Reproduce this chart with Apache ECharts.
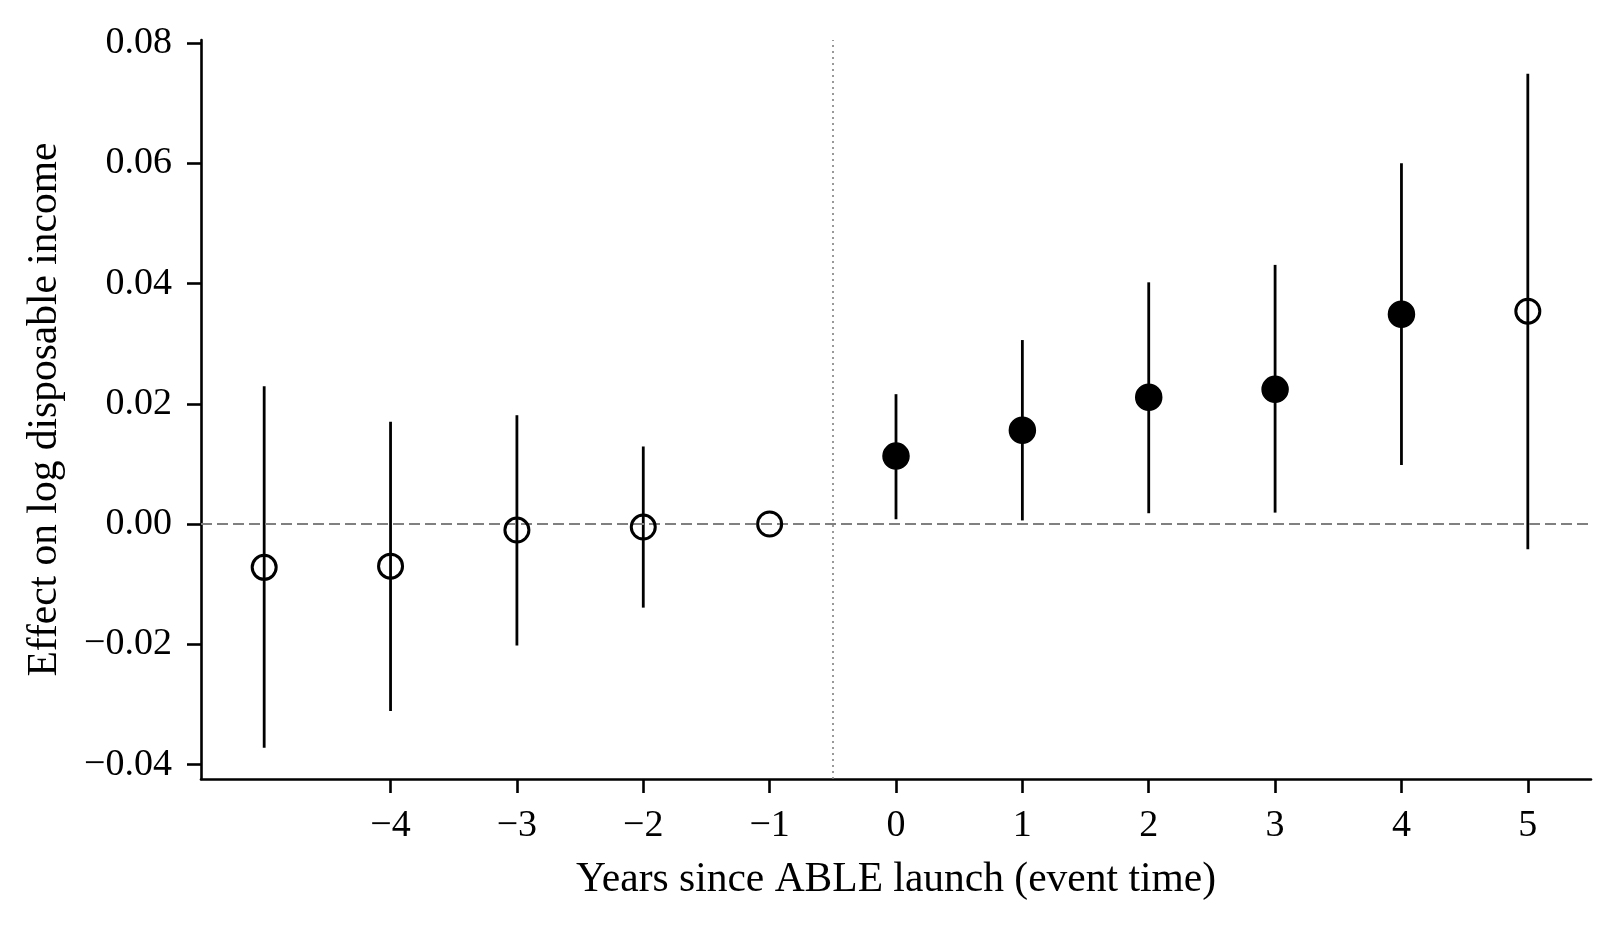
<!DOCTYPE html>
<html>
<head>
<meta charset="utf-8">
<script src="https://cdn.jsdelivr.net/npm/echarts@6/dist/echarts.min.js"></script>
<style>
html,body{margin:0;padding:0;background:#fff;}
#chart{width:1620px;height:929px;}
</style>
</head>
<body>
<div id="chart"></div>
<script>
// ---- data ----
const eventTime   = [-5, -4, -3, -2, -1, 0, 1, 2, 3, 4, 5];
const estimates   = [-0.0072, -0.0070, -0.0010, -0.0005, 0.0000, 0.0113, 0.0156, 0.0211, 0.0224, 0.0349, 0.0354];
const ciLow       = [-0.0372, -0.0311, -0.0202, -0.0139, null, 0.0008, 0.0006, 0.0018, 0.0019, 0.0098, -0.0042];
const ciHigh      = [0.0229, 0.0170, 0.0181, 0.0129, null, 0.0216, 0.0306, 0.0402, 0.0431, 0.0600, 0.0749];
const significant = [false, false, false, false, false, true, true, true, true, true, false];
const xTicks = [-4, -3, -2, -1, 0, 1, 2, 3, 4, 5];
const yTicks = [-0.04, -0.02, 0.00, 0.02, 0.04, 0.06, 0.08];
const xTitle = 'Years since ABLE launch (event time)';
const yTitle = 'Effect on log disposable income';

const FONT = "'Liberation Serif', 'Times New Roman', serif";
const minus = s => s.replace(/-/g, '\u2212');

const errData = [];
eventTime.forEach((t, i) => { if (ciLow[i] !== null) errData.push([t, ciLow[i], ciHigh[i]]); });
const filled = [], hollow = [];
eventTime.forEach((t, i) => { (significant[i] ? filled : hollow).push([t, estimates[i]]); });

const chart = echarts.init(document.getElementById('chart'), null, {renderer: 'canvas'});
chart.setOption({
  animation: false,
  backgroundColor: '#ffffff',
  grid: {left: 201, right: 29, top: 40, bottom: 150, containLabel: false},
  xAxis: {
    type: 'value', min: -5.5, max: 5.5,
    name: xTitle, nameLocation: 'middle', nameGap: 80,
    nameTextStyle: {fontFamily: FONT, fontSize: 41.5, color: '#000'},
    axisLine: {show: true, onZero: false, lineStyle: {color: '#000', width: 2.6}},
    axisTick: {show: true, length: 14, lineStyle: {color: '#000', width: 2.6}, customValues: xTicks},
    axisLabel: {fontFamily: FONT, fontSize: 38, color: '#000', margin: 28, customValues: xTicks,
                formatter: v => minus(String(v))},
    splitLine: {show: false}
  },
  yAxis: {
    type: 'value', min: -0.0424, max: 0.0805,
    name: yTitle, nameLocation: 'middle', nameGap: 135, nameRotate: 90,
    nameTextStyle: {fontFamily: FONT, fontSize: 41.5, color: '#000'},
    axisLine: {show: true, onZero: false, lineStyle: {color: '#000', width: 2.6}},
    axisTick: {show: true, length: 14, lineStyle: {color: '#000', width: 2.6}, customValues: yTicks},
    axisLabel: {fontFamily: FONT, fontSize: 38, color: '#000', margin: 29, customValues: yTicks,
                formatter: v => minus(v.toFixed(2))},
    splitLine: {show: false}
  },
  series: [
    {
      type: 'custom',
      data: errData,
      z: 2,
      silent: true,
      renderItem: (params, api) => {
        const p1 = api.coord([api.value(0), api.value(1)]);
        const p2 = api.coord([api.value(0), api.value(2)]);
        return {type: 'line', shape: {x1: p1[0], y1: p1[1], x2: p2[0], y2: p2[1]},
                style: {stroke: '#000', lineWidth: 2.8}};
      },
      markLine: {
        silent: true, symbol: ['none', 'none'], label: {show: false},
        animation: false,
        data: [
          {yAxis: 0, lineStyle: {color: '#808080', type: [11, 5], width: 1.8}},
          {xAxis: -0.5, lineStyle: {color: '#808080', type: [2, 4], width: 1.6}}
        ]
      }
    },
    {
      type: 'scatter', data: filled, symbol: 'circle', symbolSize: 26, z: 5,
      itemStyle: {color: '#000', borderColor: '#000', borderWidth: 1.5, opacity: 1}
    },
    {
      type: 'scatter', data: hollow, symbol: 'circle', symbolSize: 24, z: 5,
      itemStyle: {color: 'rgba(0,0,0,0)', borderColor: '#000', borderWidth: 3, opacity: 1}
    }
  ]
});
</script>
</body>
</html>
